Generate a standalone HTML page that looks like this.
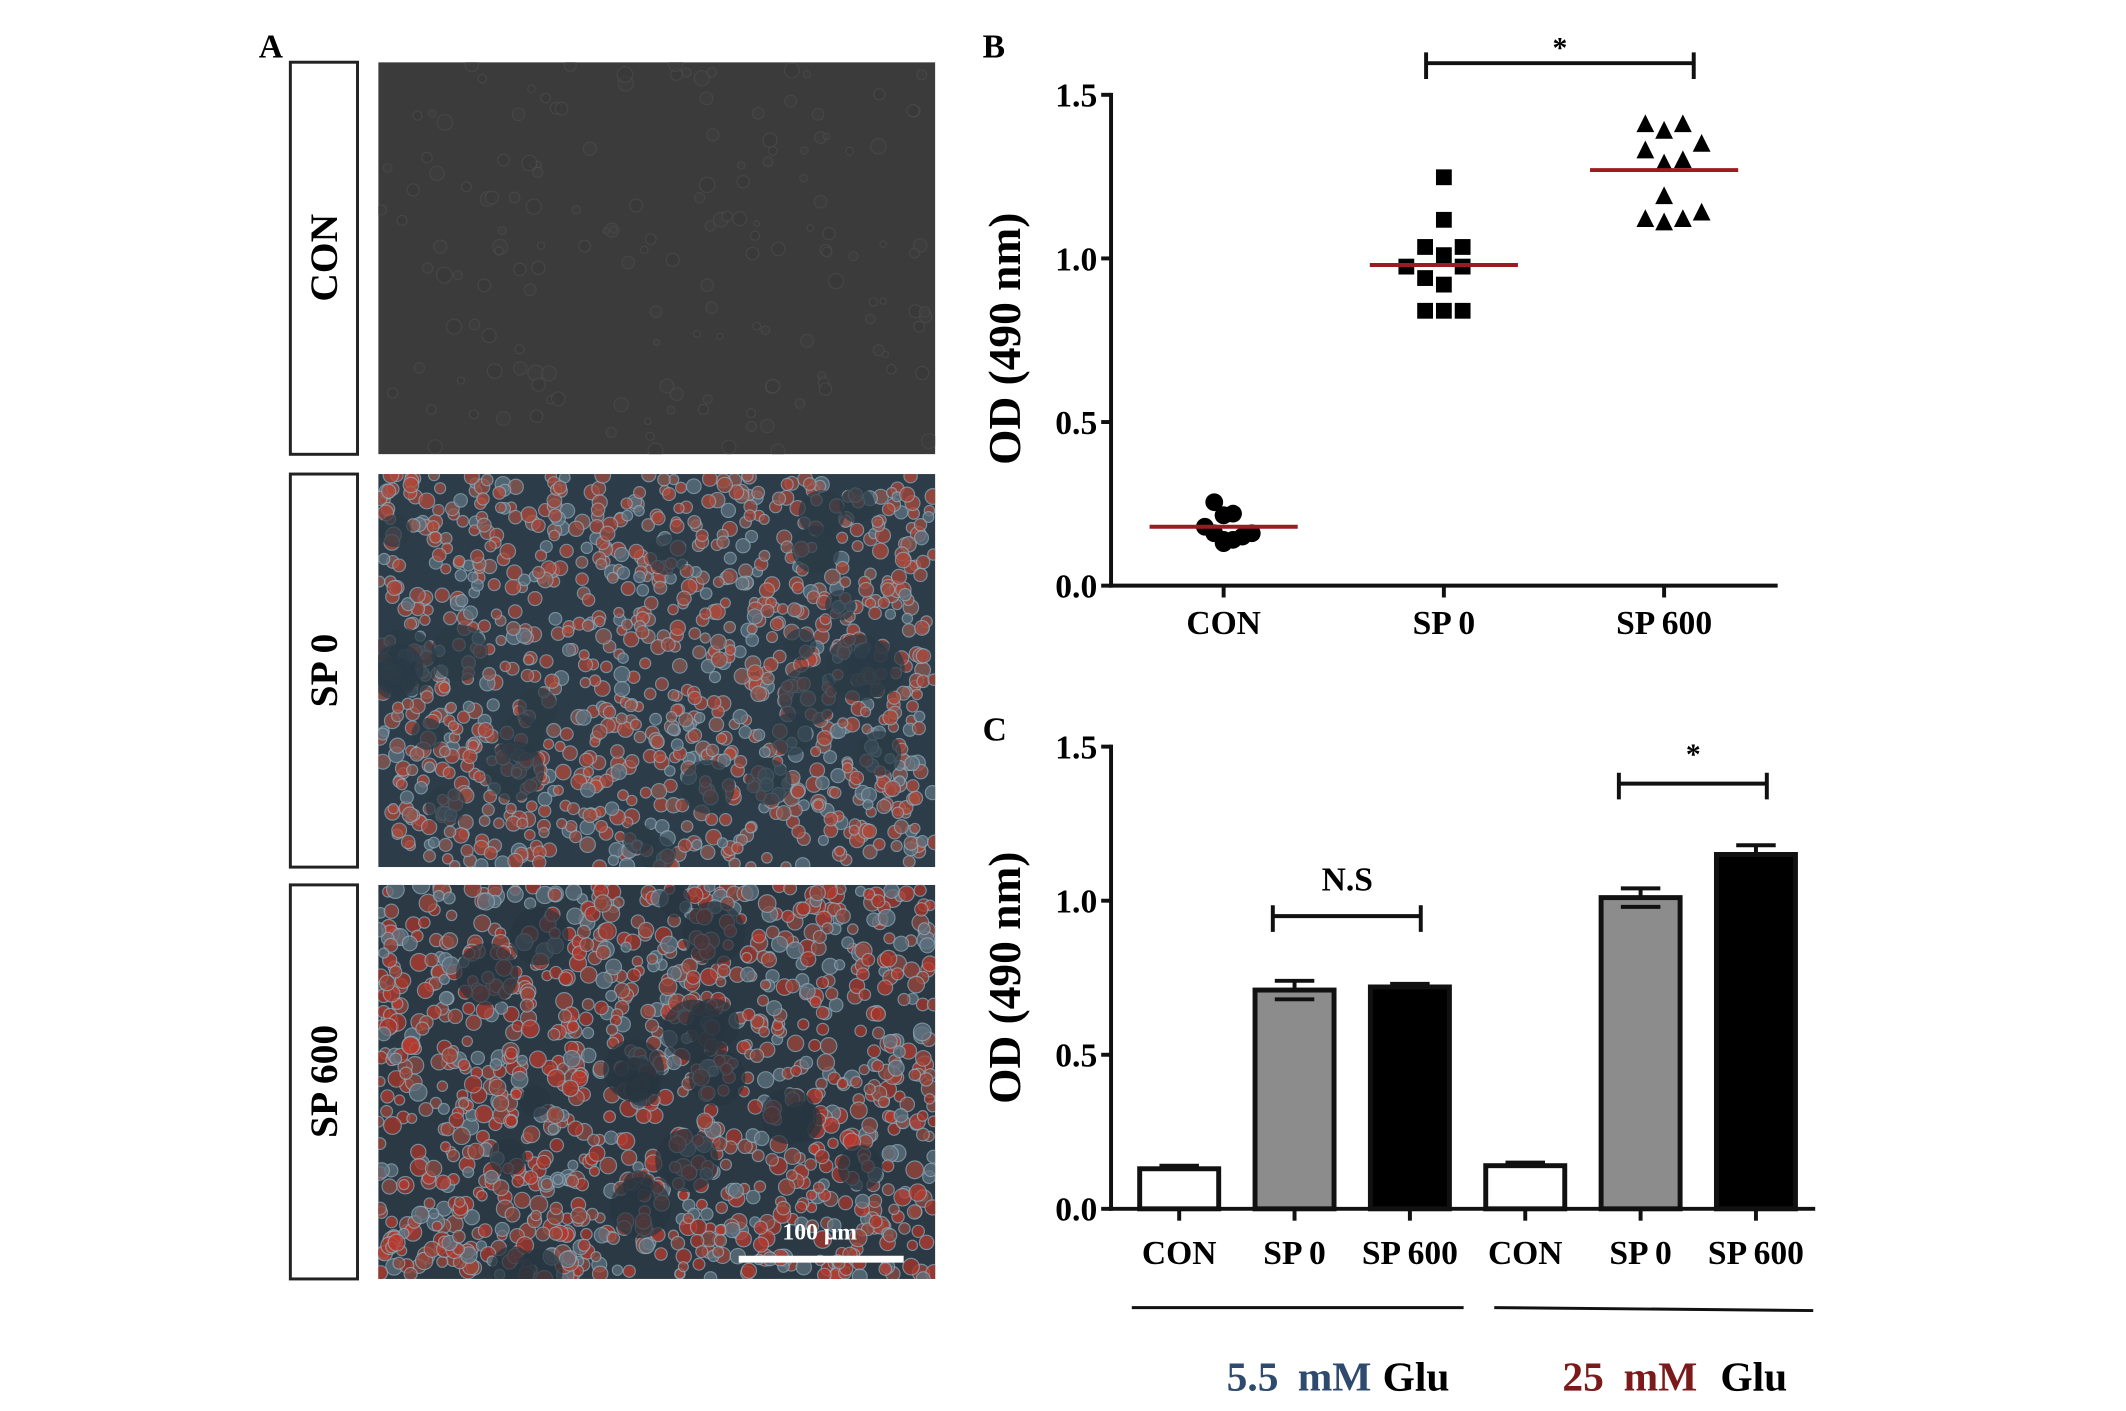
<!DOCTYPE html>
<html><head><meta charset="utf-8">
<style>
html,body{margin:0;padding:0;background:#fff;}
svg{display:block;}
text{font-family:"Liberation Serif","DejaVu Serif",serif;font-weight:bold;}
</style></head>
<body>
<svg id="fig" width="2126" height="1411" viewBox="0 0 2126 1411" xmlns="http://www.w3.org/2000/svg">
<defs>
<clipPath id="clipCon"><rect x="383" y="63" width="564" height="397"/></clipPath>
<clipPath id="clipSp0"><rect x="383" y="480" width="564" height="398"/></clipPath>
<clipPath id="clipSp600"><rect x="383" y="896" width="564" height="399"/></clipPath>
</defs>
<rect width="2126" height="1411" fill="#fff"/>
<g transform="scale(0.9876)">

<!-- Panel A -->
<g>
<text x="262" y="58" font-size="34">A</text>
<rect x="294" y="63" width="68" height="397" fill="#fff" stroke="#222" stroke-width="3"/>
<rect x="294" y="480" width="68" height="398" fill="#fff" stroke="#222" stroke-width="3"/>
<rect x="294" y="896" width="68" height="399" fill="#fff" stroke="#222" stroke-width="3"/>
<text transform="translate(341,261) rotate(-90)" text-anchor="middle" font-size="40">CON</text>
<text transform="translate(341,679) rotate(-90)" text-anchor="middle" font-size="40">SP 0</text>
<text transform="translate(341,1095) rotate(-90)" text-anchor="middle" font-size="40">SP 600</text>
<g id="imgCon" clip-path="url(#clipCon)"><rect x="383" y="63" width="564" height="397" fill="#3b3b3b"/></g>
<g id="imgSp0" clip-path="url(#clipSp0)"><rect x="383" y="480" width="564" height="398" fill="#2c3c48"/></g>
<g id="imgSp600" clip-path="url(#clipSp600)"><rect x="383" y="896" width="564" height="399" fill="#2a3944"/></g>
<line x1="748" y1="1275" x2="915" y2="1275" stroke="#fff" stroke-width="7"/>
<text x="830" y="1255" text-anchor="middle" font-size="24" fill="#fff" font-weight="normal">100 μm</text>
</g>

<!-- Panel B -->
<g id="panelB">
<text x="995" y="58" font-size="34">B</text>
<text transform="translate(1033,343) rotate(-90)" text-anchor="middle" font-size="46">OD (490 nm)</text>
</g>

<!-- Panel C -->
<g id="panelC">
<text x="995" y="750" font-size="34">C</text>
<text transform="translate(1033,990) rotate(-90)" text-anchor="middle" font-size="46">OD (490 nm)</text>
<line x1="1146" y1="1324" x2="1482" y2="1324" stroke="#111" stroke-width="3"/>
<line x1="1513" y1="1324" x2="1836" y2="1327" stroke="#111" stroke-width="3"/>
<g font-size="42">
<text x="1242" y="1408" fill="#2e4a6e">5.5</text>
<text x="1314" y="1408" fill="#2e4a6e">mM</text>
<text x="1400" y="1408" fill="#000">Glu</text>
</g>
<g font-size="42">
<text x="1582" y="1408" fill="#7a1a1a">25</text>
<text x="1644" y="1408" fill="#7a1a1a">mM</text>
<text x="1742" y="1408" fill="#000">Glu</text>
</g>
</g>
</g>
</svg>
<script>
// ---------- Panel B data ----------
const bCategories = ["CON", "SP 0", "SP 600"];
const bConValues = [0.255, 0.215, 0.215, 0.22, 0.18, 0.16, 0.14, 0.13, 0.14, 0.15, 0.16];
const bConJitter = [-0.5, 0, 0, 0.5, -1, -0.5, 0, 0, 0.5, 1, 1.5];
const bSp0Values = [1.248, 1.118, 1.035, 1.035, 1.01, 0.975, 0.975, 0.94, 0.92, 0.84, 0.84, 0.84];
const bSp0Jitter = [0, 0, -1, 1, 0, -2, 1, -1, 0, -1, 0, 1];
const bSp600Values = [1.41, 1.39, 1.41, 1.33, 1.35, 1.29, 1.30, 1.19, 1.12, 1.11, 1.12, 1.14];
const bSp600Jitter = [-1, 0, 1, -1, 2, 0, 1, 0, -1, 0, 1, 2];
const bMeans = [0.18, 0.98, 1.27];
const bTicks = [0.0, 0.5, 1.0, 1.5];
const bTickLabels = ["0.0", "0.5", "1.0", "1.5"];

// ---------- Panel C data ----------
const cCategories = ["CON", "SP 0", "SP 600", "CON", "SP 0", "SP 600"];
const cValues = [0.13, 0.71, 0.72, 0.14, 1.01, 1.15];
const cErrors = [0.01, 0.03, 0.01, 0.01, 0.03, 0.03];
const cFills = ["#ffffff", "#8c8c8c", "#000000", "#ffffff", "#8c8c8c", "#000000"];
const cTicks = [0.0, 0.5, 1.0, 1.5];
const cTickLabels = ["0.0", "0.5", "1.0", "1.5"];

const NS = "http://www.w3.org/2000/svg";
function mk(tag, attrs, parent) {
  const e = document.createElementNS(NS, tag);
  for (const k in attrs) e.setAttribute(k, attrs[k]);
  parent.appendChild(e);
  return e;
}

// ---------- Panel B ----------
const gB = document.getElementById("panelB");
const bX0 = 1125, bX1 = 1800, bY0 = 593, bY1 = 96;
const bCatX = i => 1239 + i * 223;
const bY = v => bY0 - (v / 1.5) * (bY0 - bY1);
const bJit = 19;
let ax = mk("line", {x1: bX0, y1: bY1 - 2, x2: bX0, y2: bY0 + 2, stroke: "#111", "stroke-width": 4}, gB);


ax = mk("line", {x1: bX0 - 2, y1: bY0, x2: bX1, y2: bY0, stroke: "#111", "stroke-width": 4}, gB);


bTicks.forEach((t, i) => {
  const tk = mk("line", {x1: bX0 - 10, y1: bY(t), x2: bX0, y2: bY(t), stroke: "#111", "stroke-width": 4}, gB);
  
  
  const tl = mk("text", {x: bX0 - 14, y: bY(t) + 12, "text-anchor": "end", "font-size": 34}, gB);
  tl.textContent = bTickLabels[i];
  
  
});
bCategories.forEach((c, i) => {
  const tk = mk("line", {x1: bCatX(i), y1: bY0, x2: bCatX(i), y2: bY0 + 12, stroke: "#111", "stroke-width": 4}, gB);
  
  
  const tl = mk("text", {x: bCatX(i), y: bY0 + 49, "text-anchor": "middle", "font-size": 34}, gB);
  tl.textContent = c;
  
  
});
bConValues.forEach((v, i) => {
  const p = mk("circle", {cx: bCatX(0) + bConJitter[i] * bJit, cy: bY(v), r: 9, fill: "#000"}, gB);
  
  
});
bSp0Values.forEach((v, i) => {
  const x = bCatX(1) + bSp0Jitter[i] * bJit, y = bY(v);
  const p = mk("rect", {x: x - 8, y: y - 8, width: 16, height: 16, fill: "#000"}, gB);
  
  
});
bSp600Values.forEach((v, i) => {
  const x = bCatX(2) + bSp600Jitter[i] * bJit, y = bY(v);
  const p = mk("polygon", {points: `${x},${y - 10} ${x + 9},${y + 8} ${x - 9},${y + 8}`, fill: "#000"}, gB);
  
  
});
bMeans.forEach((m, i) => {
  const l = mk("line", {x1: bCatX(i) - 75, y1: bY(m), x2: bCatX(i) + 75, y2: bY(m), stroke: "#9b1b1f", "stroke-width": 4}, gB);
  
  
});
{
  const yb = 64;
  const br = mk("path", {d: `M${bCatX(1) - 18},${yb - 11} V${yb + 16} M${bCatX(1) - 18},${yb} H${bCatX(2) + 30} M${bCatX(2) + 30},${yb - 11} V${yb + 16}`, stroke: "#111", "stroke-width": 4, fill: "none"}, gB);
  
  
  const st = mk("text", {x: (bCatX(1) + bCatX(2)) / 2 + 6, y: 58, "text-anchor": "middle", "font-size": 30}, gB);
  st.textContent = "*";
  
  
}

// ---------- Panel C ----------
const gC = document.getElementById("panelC");
const cX0 = 1125, cX1 = 1838, cY0 = 1224, cY1 = 756;
const cCatX = i => 1194 + i * 116.8;
const cY = v => cY0 - (v / 1.5) * (cY0 - cY1);
const bw = 80;
ax = mk("line", {x1: cX0, y1: cY1 - 2, x2: cX0, y2: cY0 + 2, stroke: "#111", "stroke-width": 4}, gC);


cTicks.forEach((t, i) => {
  const tk = mk("line", {x1: cX0 - 10, y1: cY(t), x2: cX0, y2: cY(t), stroke: "#111", "stroke-width": 4}, gC);
  
  
  const tl = mk("text", {x: cX0 - 14, y: cY(t) + 12, "text-anchor": "end", "font-size": 34}, gC);
  tl.textContent = cTickLabels[i];
  
  
});
cValues.forEach((v, i) => {
  const x = cCatX(i);
  const eb = mk("path", {d: `M${x},${cY(v - cErrors[i])} V${cY(v + cErrors[i])} M${x - 20},${cY(v + cErrors[i])} H${x + 20} M${x - 20},${cY(v - cErrors[i])} H${x + 20}`, stroke: "#111", "stroke-width": 4, fill: "none"}, gC);
  
  
  const r = mk("rect", {x: x - bw / 2, y: cY(v), width: bw, height: cY0 - cY(v), fill: cFills[i], stroke: "#111", "stroke-width": 5}, gC);
  
  
  if (i === 1 || i === 4) {
    const e2 = mk("line", {x1: x - 20, y1: cY(v - cErrors[i]), x2: x + 20, y2: cY(v - cErrors[i]), stroke: "#111", "stroke-width": 4}, gC);
    
    
  }
  const tk = mk("line", {x1: x, y1: cY0, x2: x, y2: cY0 + 12, stroke: "#111", "stroke-width": 4}, gC);
  
  
  const tl = mk("text", {x: x, y: cY0 + 56, "text-anchor": "middle", "font-size": 34}, gC);
  tl.textContent = cCategories[i];
  
  
});
ax = mk("line", {x1: cX0 - 2, y1: cY0, x2: cX1, y2: cY0, stroke: "#111", "stroke-width": 4}, gC);


function bracket(i1, i2, yv, label, fs, name) {
  const y = cY(yv);
  const br = mk("path", {d: `M${cCatX(i1) - 22},${y - 11} V${y + 16} M${cCatX(i1) - 22},${y} H${cCatX(i2) + 11} M${cCatX(i2) + 11},${y - 11} V${y + 16}`, stroke: "#111", "stroke-width": 4, fill: "none"}, gC);
  
  
  const t = mk("text", {x: (cCatX(i1) + cCatX(i2)) / 2 - 5, y: y - (label === "*" ? 20 : 26), "text-anchor": "middle", "font-size": fs}, gC);
  t.textContent = label;
  
  
}
bracket(1, 2, 0.95, "N.S", 34, 'ns-significance');
bracket(4, 5, 1.38, "*", 30, 'star-significance');

// ---------- Micrograph textures (decorative) ----------
let seed = 12345;
function rnd() { seed = (seed * 1103515245 + 12345) % 2147483648; return seed / 2147483648; }
function texture(id, x0, y0, w, h, n, cols, rmin, rmax, stroke, op) {
  const g = document.getElementById(id);
  for (let k = 0; k < n; k++) {
    mk("circle", {cx: x0 + rnd() * w, cy: y0 + rnd() * h, r: rmin + rnd() * (rmax - rmin),
      fill: cols[Math.floor(rnd() * cols.length)], stroke: stroke, "stroke-width": 1.2, opacity: op}, g);
  }
}
texture("imgCon", 383, 63, 564, 397, 160, ["#3f3f3f", "#393939"], 3, 8, "#4e4e4e", 0.6);
texture("imgSp0", 383, 480, 564, 398, 1100, ["#a9463a", "#8f5a52", "#b24a38", "#5e7280", "#9c4c40"], 5, 8, "#8fa9b8", 0.75);
texture("imgSp0", 383, 480, 564, 398, 25, ["#2a3a46"], 15, 35, "none", 0.7);
texture("imgSp600", 383, 896, 564, 399, 1150, ["#a83528", "#8e4a40", "#b93a2e", "#5f717e", "#9e4538"], 5, 9, "#8fa9b8", 0.75);
texture("imgSp600", 383, 896, 564, 399, 20, ["#26343f"], 15, 32, "none", 0.7);
</script>
</body></html>
